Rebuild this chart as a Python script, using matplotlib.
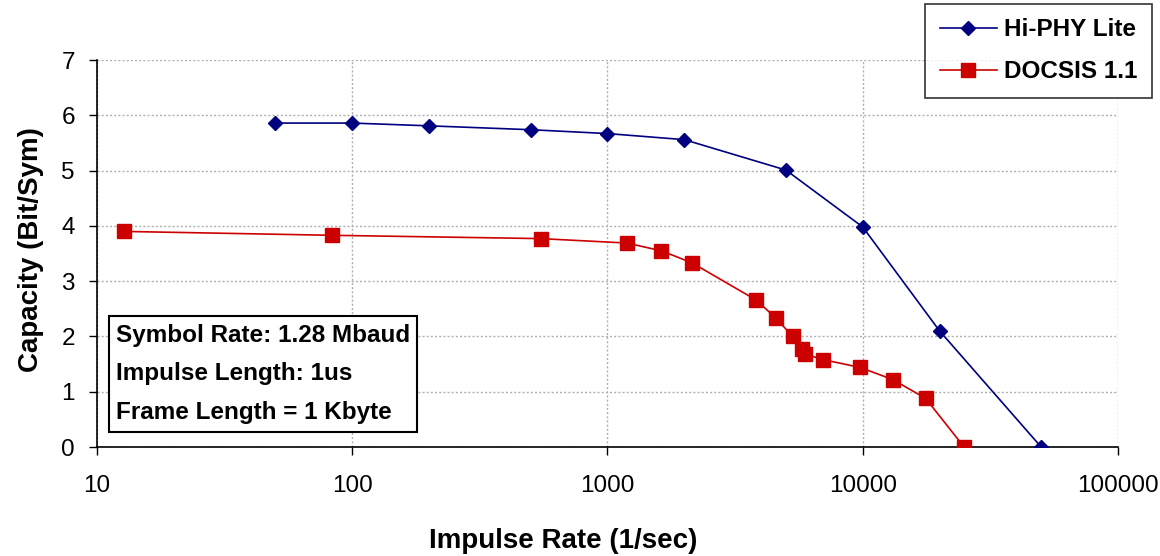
import numpy as np
import matplotlib.pyplot as plt

plt.rcParams['font.family'] = ['Liberation Sans', 'DejaVu Sans']

# Hi-PHY Lite series
hiphy_rate = [50, 100, 200, 500, 1000, 2000, 5000, 10000, 20000, 50000]
hiphy_cap = [5.86, 5.86, 5.81, 5.74, 5.67, 5.56, 5.01, 3.98, 2.10, 0.0]

# DOCSIS 1.1 series
docsis_rate = [12.8, 83, 548, 1190, 1626, 2147, 3820, 4575, 5310, 5794, 5935,
               7014, 9753, 13116, 17630, 24950]
docsis_cap = [3.90, 3.83, 3.77, 3.69, 3.55, 3.33, 2.66, 2.33, 2.00, 1.77, 1.68,
              1.58, 1.44, 1.22, 0.88, 0.0]

xticks = [10, 100, 1000, 10000, 100000]
xticklabels = ['10', '100', '1000', '10000', '100000']
yticks = [0, 1, 2, 3, 4, 5, 6, 7]

note_lines = ['Symbol Rate: 1.28 Mbaud', 'Impulse Length: 1us', 'Frame Length = 1 Kbyte']

fig = plt.figure(figsize=(11.6, 5.56), dpi=100)
ax = fig.add_axes([0.0836, 0.196, 0.8802, 0.696])

l1, = ax.plot(hiphy_rate, hiphy_cap, color='#000080', lw=1.2, marker='D',
              markersize=7.5, label='Hi-PHY Lite', zorder=3)
l2, = ax.plot(docsis_rate, docsis_cap, color='#CC0000', lw=1.2, marker='s',
              markersize=10.5, label='DOCSIS 1.1', zorder=3)

ax.set_xscale('log')
ax.set_xlim(10, 100000)
ax.set_ylim(0, 7)
ax.set_xticks(xticks)
ax.set_xticklabels(xticklabels)
ax.set_yticks(yticks)
ax.minorticks_off()
ax.tick_params(direction='out', length=6, width=1, labelsize=17.5)
ax.tick_params(axis='x', pad=14)
ax.tick_params(axis='y', pad=10)

ax.grid(True, color='#b0b0b0', linestyle=(0, (1.5, 1.5)), lw=1.0)
ax.set_axisbelow(True)
for s in ['top', 'right']:
    ax.spines[s].set_visible(False)
for s in ['left', 'bottom']:
    ax.spines[s].set_linewidth(1.2)

ax.set_xlabel('Impulse Rate (1/sec)', fontsize=20, fontweight='bold', va='center')
ax.xaxis.set_label_coords(0.457, -0.242)
ax.set_ylabel('Capacity (Bit/Sym)', fontsize=20, fontweight='bold', va='center')
ax.yaxis.set_label_coords(-0.065, 0.51)

ax.text(0.0186, 0.189, '\n'.join(note_lines), transform=ax.transAxes,
        fontsize=17.5, fontweight='bold', linespacing=1.88, va='center', ha='left',
        bbox=dict(boxstyle='square,pad=0.3', facecolor='white',
                  edgecolor='black', lw=1.5), zorder=5)

leg = fig.legend(handles=[l1, l2], loc='upper right', bbox_to_anchor=(0.993, 0.993),
                 prop={'weight': 'bold', 'size': 17.5}, frameon=True,
                 fancybox=False, edgecolor='black', handlelength=2.35,
                 borderpad=0.6, labelspacing=0.78, handletextpad=0.3,
                 borderaxespad=0)
leg.get_frame().set_linewidth(1.2)

fig.savefig('out.png', dpi=100)
